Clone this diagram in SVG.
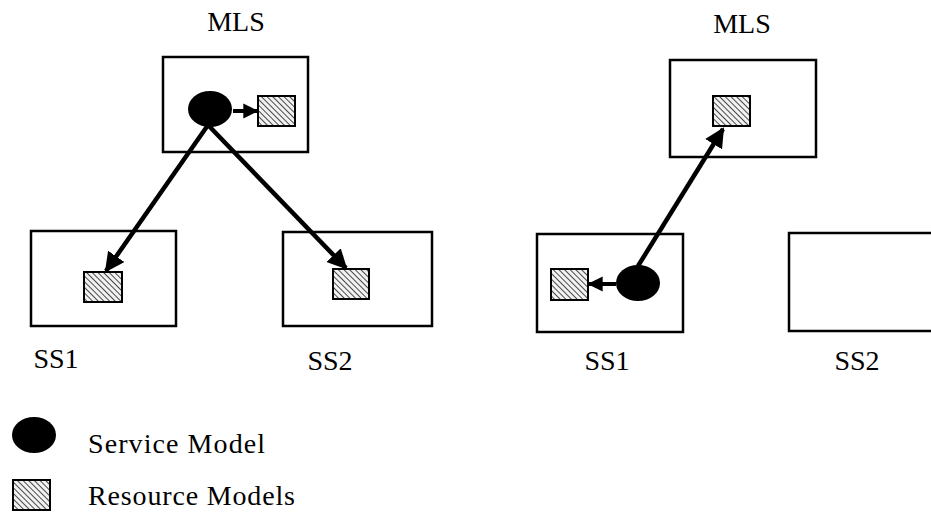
<svg xmlns="http://www.w3.org/2000/svg" width="931" height="512" viewBox="0 0 931 512">
  <style>
    .box { fill: #ffffff; stroke: #000000; stroke-width: 2.5; }
    .res { fill: url(#hatch); stroke: #000000; stroke-width: 2; }
    .svc { fill: #000000; }
    .link { stroke: #000000; stroke-width: 4.5; fill: none; }
    .short { stroke: #000000; stroke-width: 4; fill: none; }
    .lbl { font-family: "Liberation Serif", "Times New Roman", serif; font-size: 28px; fill: #000000; }
  </style>
  <defs>
    <pattern id="hatch" patternUnits="userSpaceOnUse" width="4" height="4" patternTransform="rotate(-45)">
      <rect width="4" height="4" fill="#f2f2f2"/>
      <line x1="0" y1="0" x2="0" y2="4" stroke="#000000" stroke-width="1.4"/>
    </pattern>
    <!-- large head for the long links -->
    <marker id="head" viewBox="0 0 10 10" refX="9" refY="5" markerWidth="4.4" markerHeight="4.4" orient="auto" markerUnits="strokeWidth">
      <path d="M0,0 L10,5 L0,10 Z" fill="#000000"/>
    </marker>
    <!-- small head for the links inside a box -->
    <marker id="head-s" viewBox="0 0 10 10" refX="9" refY="5" markerWidth="3.8" markerHeight="3.8" orient="auto" markerUnits="strokeWidth">
      <path d="M0,0 L10,5 L0,10 Z" fill="#000000"/>
    </marker>
  </defs>

  <rect width="931" height="512" fill="#ffffff"/>

  <!-- left scenario -->
  <g id="mls-left">
    <rect class="box" x="163" y="57" width="145" height="95"/>
    <ellipse class="svc" cx="210" cy="109" rx="22" ry="18"/>
    <rect class="res" x="258" y="96" width="37" height="30"/>
    <text class="lbl" x="236" y="31" text-anchor="middle">MLS</text>
  </g>
  <g id="ss1-left">
    <rect class="box" x="31" y="231" width="145" height="95"/>
    <rect class="res" x="84" y="272" width="38" height="30"/>
    <text class="lbl" x="56" y="368" text-anchor="middle">SS1</text>
  </g>
  <g id="ss2-left">
    <rect class="box" x="283" y="232" width="149" height="94"/>
    <rect class="res" x="333" y="269" width="36" height="30"/>
    <text class="lbl" x="330" y="370" text-anchor="middle">SS2</text>
  </g>

  <!-- right scenario -->
  <g id="mls-right">
    <rect class="box" x="670" y="60" width="146" height="97"/>
    <rect class="res" x="713" y="96" width="37" height="30"/>
    <text class="lbl" x="742" y="33" text-anchor="middle">MLS</text>
  </g>
  <g id="ss1-right">
    <rect class="box" x="537" y="234" width="146" height="98"/>
    <rect class="res" x="551" y="269" width="37" height="31"/>
    <ellipse class="svc" cx="638" cy="283" rx="22" ry="18"/>
    <text class="lbl" x="607" y="370" text-anchor="middle">SS1</text>
  </g>
  <g id="ss2-right">
    <rect class="box" x="789" y="233" width="150" height="98"/>
    <text class="lbl" x="857" y="370" text-anchor="middle">SS2</text>
  </g>

  <!-- connectors -->
  <g id="connectors">
    <line class="short" x1="233" y1="111" x2="257" y2="111" marker-end="url(#head-s)"/>
    <line class="link" x1="208" y1="125" x2="106" y2="271" marker-end="url(#head)"/>
    <line class="link" x1="208" y1="125" x2="346" y2="268" marker-end="url(#head)"/>
    <line class="short" x1="616" y1="284" x2="589" y2="284" marker-end="url(#head-s)"/>
    <line class="link" x1="638" y1="266" x2="723" y2="129" marker-end="url(#head)"/>
  </g>

  <!-- legend -->
  <g id="legend-service">
    <ellipse class="svc" cx="34" cy="435" rx="22" ry="18"/>
    <text class="lbl" x="88" y="453" textLength="177" lengthAdjust="spacing">Service Model</text>
  </g>
  <g id="legend-resource">
    <rect class="res" x="13" y="480" width="37" height="30"/>
    <text class="lbl" x="88" y="505" textLength="207" lengthAdjust="spacing">Resource Models</text>
  </g>
</svg>
